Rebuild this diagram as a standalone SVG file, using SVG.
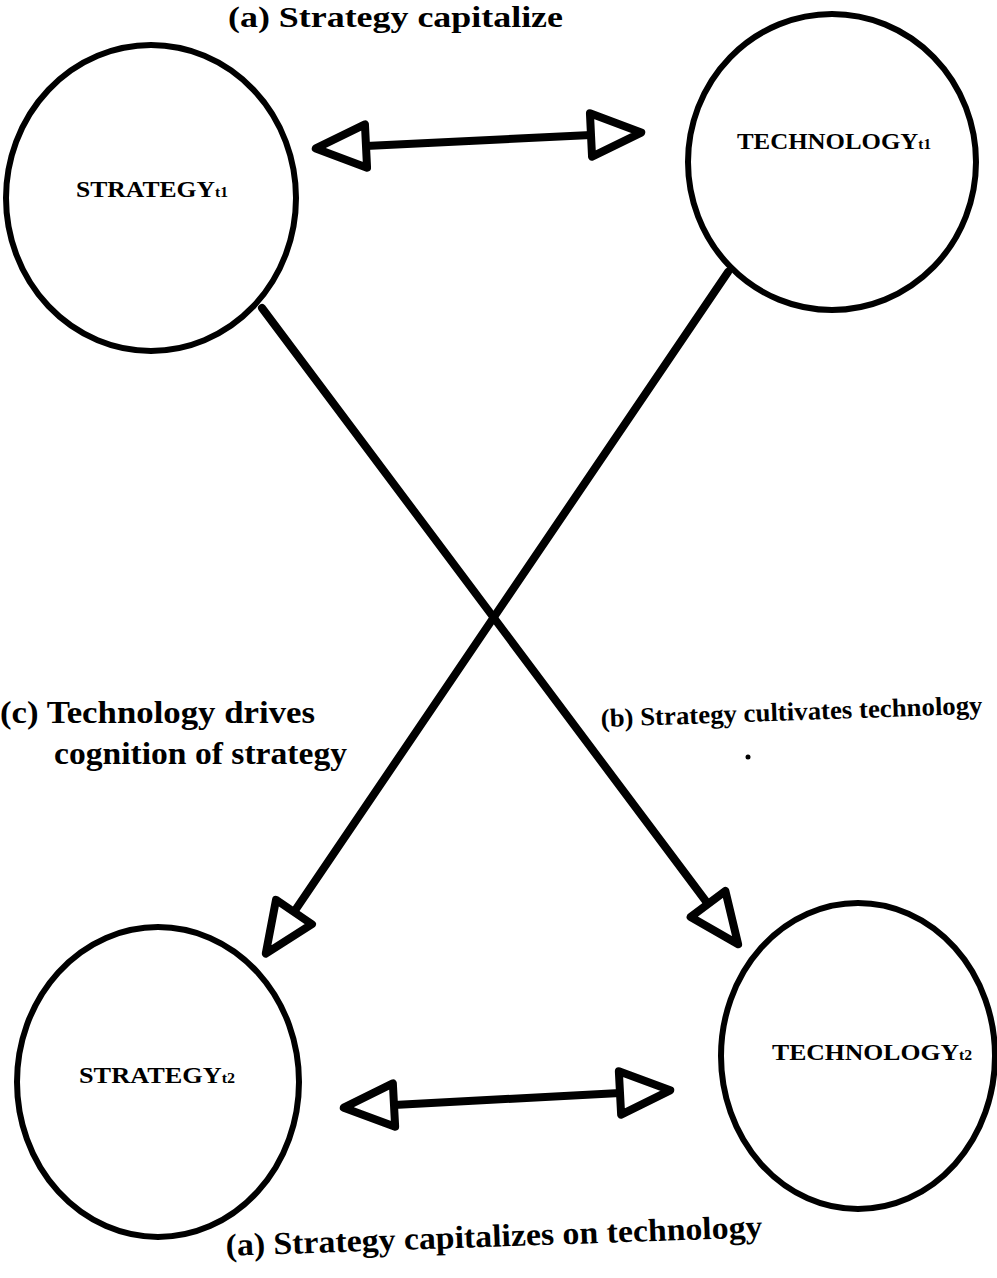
<svg xmlns="http://www.w3.org/2000/svg" width="997" height="1278" viewBox="0 0 997 1278">
<style>
.node{fill:#fff;stroke:#000;stroke-width:6}
.lbl{font-family:"Liberation Serif","Times New Roman",serif;font-size:23px;fill:#000;font-weight:bold}
.sub{font-size:14px}
.cap{font-family:"Liberation Serif","Times New Roman",serif;font-size:32px;font-weight:bold;fill:#000}
.conn{stroke:#000;fill:none;stroke-width:8;stroke-linecap:round}
</style>
<defs>
<marker id="ah" markerUnits="userSpaceOnUse" markerWidth="80" markerHeight="80" refX="0" refY="0" viewBox="-10 -30 70 60" orient="auto-start-reverse" overflow="visible">
<path d="M0,-19 L44,0 L0,19 Z" fill="#fff" stroke="#000" stroke-width="7" stroke-linejoin="round"/>
</marker>
</defs>
<rect width="997" height="1278" fill="#fff"/>
<g id="connectors">
<line class="conn" x1="366" y1="146" x2="591" y2="135" marker-start="url(#ah)" marker-end="url(#ah)"/>
<line class="conn" x1="394" y1="1105" x2="620" y2="1093" marker-start="url(#ah)" marker-end="url(#ah)"/>
<line class="conn" x1="262" y1="308" x2="708" y2="904" marker-end="url(#ah)"/>
<line class="conn" x1="728" y1="272" x2="294" y2="912" marker-end="url(#ah)"/>
</g>
<g id="strategy1">
<ellipse class="node" cx="151" cy="198" rx="145" ry="153"/>
<text class="lbl" x="76" y="197" textLength="152" lengthAdjust="spacingAndGlyphs">STRATEGY<tspan class="sub">t1</tspan></text>
</g>
<g id="technology1">
<ellipse class="node" cx="832" cy="162" rx="144" ry="148"/>
<text class="lbl" x="737" y="149" textLength="194" lengthAdjust="spacingAndGlyphs">TECHNOLOGY<tspan class="sub">t1</tspan></text>
</g>
<g id="strategy2">
<ellipse class="node" cx="158" cy="1082" rx="141" ry="155"/>
<text class="lbl" x="79" y="1083" textLength="156" lengthAdjust="spacingAndGlyphs">STRATEGY<tspan class="sub">t2</tspan></text>
</g>
<g id="technology2">
<ellipse class="node" cx="858" cy="1056" rx="137" ry="153"/>
<text class="lbl" x="772" y="1060" textLength="200" lengthAdjust="spacingAndGlyphs">TECHNOLOGY<tspan class="sub">t2</tspan></text>
</g>
<g id="labels">
<text class="cap" x="228" y="27" style="font-size:30px" textLength="335" lengthAdjust="spacingAndGlyphs">(a) Strategy capitalize</text>
<text class="cap" x="0" y="723" textLength="315" lengthAdjust="spacingAndGlyphs">(c) Technology drives</text>
<text class="cap" x="54" y="764" textLength="293" lengthAdjust="spacingAndGlyphs">cognition of strategy</text>
<text class="cap" x="601" y="727" style="font-size:26px" textLength="382" lengthAdjust="spacingAndGlyphs" transform="rotate(-2 601 727)">(b) Strategy cultivates technology</text>
<text class="cap" x="226" y="1256" textLength="537" lengthAdjust="spacingAndGlyphs" transform="rotate(-2 226 1256)">(a) Strategy capitalizes on technology</text>
<circle cx="748" cy="757" r="2.5" fill="#000"/>
</g>
</svg>
